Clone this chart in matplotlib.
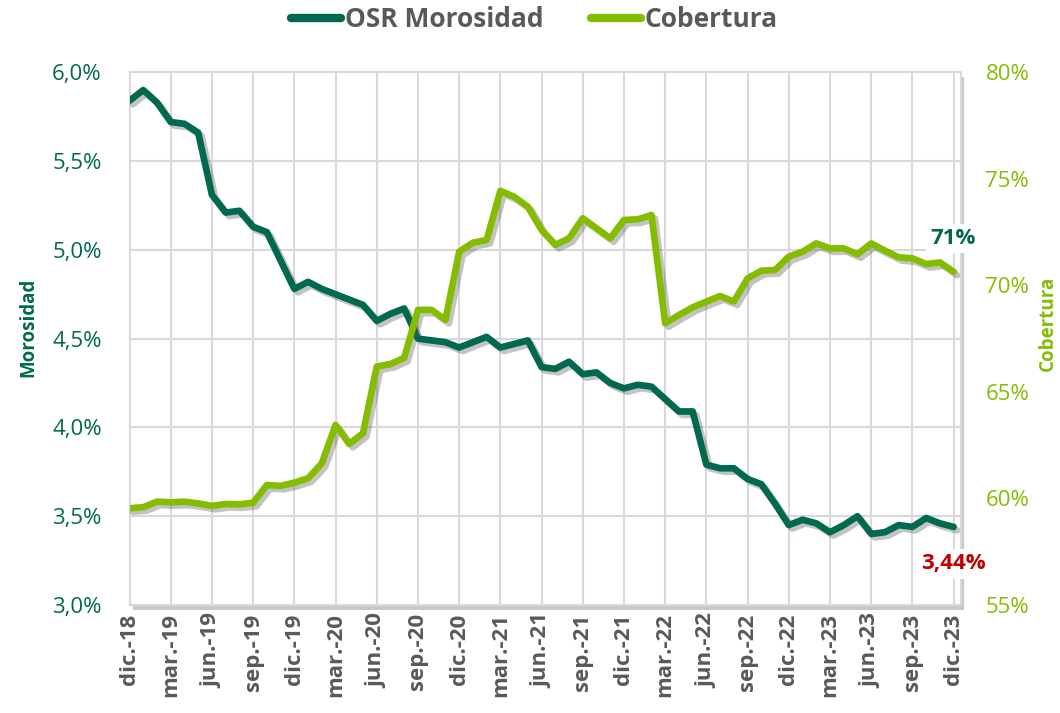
import matplotlib
matplotlib.use('Agg')
from matplotlib import pyplot as plt
from matplotlib import patheffects as pe
from matplotlib.patches import Rectangle
from matplotlib.lines import Line2D
import numpy as np

# monthly values, dic.-18 .. dic.-23
morosidad = [5.84, 5.90, 5.83, 5.72, 5.71, 5.66, 5.31, 5.21, 5.22, 5.13,
             5.10, 4.94, 4.78, 4.82, 4.78, 4.75, 4.72, 4.69, 4.60, 4.64,
             4.67, 4.50, 4.49, 4.48, 4.45, 4.48, 4.51, 4.45, 4.47, 4.49,
             4.34, 4.33, 4.37, 4.30, 4.31, 4.25, 4.22, 4.24, 4.23, 4.16,
             4.09, 4.09, 3.79, 3.77, 3.77, 3.71, 3.68, 3.57, 3.45, 3.48,
             3.46, 3.41, 3.45, 3.50, 3.40, 3.41, 3.45, 3.44, 3.49, 3.46, 3.44]
cobertura = [59.54, 59.59, 59.85, 59.82, 59.85, 59.77, 59.65, 59.74, 59.72, 59.80,
             60.63, 60.59, 60.74, 60.95, 61.65, 63.45, 62.56, 63.06, 66.19, 66.31,
             66.60, 68.85, 68.85, 68.38, 71.58, 72.00, 72.13, 74.44, 74.16, 73.69,
             72.60, 71.90, 72.21, 73.15, 72.68, 72.21, 73.07, 73.10, 73.30, 68.22,
             68.61, 68.97, 69.24, 69.50, 69.24, 70.33, 70.69, 70.72, 71.35, 71.58,
             71.97, 71.74, 71.74, 71.46, 71.97, 71.63, 71.32, 71.27, 71.00, 71.08, 70.64]
tick_labels = ['dic.-18', 'mar.-19', 'jun.-19', 'sep.-19', 'dic.-19', 'mar.-20',
               'jun.-20', 'sep.-20', 'dic.-20', 'mar.-21', 'jun.-21', 'sep.-21',
               'dic.-21', 'mar.-22', 'jun.-22', 'sep.-22', 'dic.-22', 'mar.-23',
               'jun.-23', 'sep.-23', 'dic.-23']
left_ticks = [3.0, 3.5, 4.0, 4.5, 5.0, 5.5, 6.0]
right_ticks = [55, 60, 65, 70, 75, 80]

DARK = '#00694E'
LIGHT = '#84BD00'
GREY = '#595959'
GRID = '#D9D9D9'

plt.rcParams['font.family'] = ['Open Sans', 'DejaVu Sans']

fig = plt.figure(figsize=(10.6, 7.13), dpi=100)
L, R, B, T = 129.5 / 1060, 960.5 / 1060, 1 - 605 / 713, 1 - 72.3 / 713
ax = fig.add_axes([L, B, R - L, T - B])

# plot area shadow
fig.add_artist(Rectangle((L + 3 / 1060, B - 5 / 713), R - L, T - B,
                         transform=fig.transFigure, facecolor='#C8C8C8',
                         edgecolor='none', zorder=-1))

x = np.arange(len(morosidad))
shadow = [pe.SimpleLineShadow(offset=(2.5, -2.5), shadow_color='#555555', alpha=0.35),
          pe.Normal()]

ax.plot(x, morosidad, color=DARK, lw=4.8, solid_joinstyle='round',
        solid_capstyle='round', path_effects=shadow, zorder=3)
ax.set_xlim(0, 60.5)
ax.set_ylim(3.0, 6.0)
ax.set_yticks(left_ticks)
ax.set_yticklabels([('%.1f%%' % v).replace('.', ',') for v in left_ticks],
                   color=DARK, fontsize=16)
ax.set_xticks(np.arange(0, 61, 3))
ax.set_xticklabels(tick_labels, rotation=90, fontsize=16, fontweight='bold', color=GREY)
ax.tick_params(length=0, pad=6)
ax.tick_params(axis='y', pad=20)
ax.grid(True, color=GRID, lw=1.5)
ax.set_axisbelow(True)
for s in ax.spines.values():
    s.set_color(GRID)
    s.set_linewidth(1.5)

ax2 = ax.twinx()
ax2.plot(x, cobertura, color=LIGHT, lw=4.8, solid_joinstyle='round',
         solid_capstyle='round', path_effects=shadow, zorder=3)
ax2.set_ylim(55, 80)
ax2.set_yticks(right_ticks)
ax2.set_yticklabels(['%d%%' % v for v in right_ticks], color=LIGHT, fontsize=16)
ax2.tick_params(length=0, pad=18)
for s in ax2.spines.values():
    s.set_visible(False)

# axis titles
fig.text(28 / 1060, 1 - 327 / 713, 'Morosidad', rotation=90, ha='center', va='center',
         color=DARK, fontsize=13.5, fontweight='bold')
fig.text(1048 / 1060, 1 - 323 / 713, 'Cobertura', rotation=90, ha='center', va='center',
         color=LIGHT, fontsize=13.5, fontweight='bold')

# end labels
ax2.annotate('71%', (x[-1], cobertura[-1]), xytext=(-1, 33), textcoords='offset pixels',
             ha='center', va='center', fontsize=16, fontweight='bold', color=DARK,
             bbox=dict(facecolor='white', edgecolor='none', pad=3), zorder=5)
ax.annotate('3,44%', (x[-1], morosidad[-1]), xytext=(0, -37), textcoords='offset pixels',
            ha='center', va='center', fontsize=16, fontweight='bold', color='#C00000',
            bbox=dict(facecolor='white', edgecolor='none', pad=3), zorder=5)

handles = [Line2D([], [], color=DARK, lw=6, solid_capstyle='round'),
           Line2D([], [], color=LIGHT, lw=6, solid_capstyle='round')]
fig.legend(handles, ['OSR Morosidad', 'Cobertura'], loc='center', ncol=2,
           bbox_to_anchor=(0.504, 0.972), frameon=False, handlelength=1.9,
           handletextpad=0.15, columnspacing=1.8,
           prop=dict(size=19, weight='bold'), labelcolor=GREY)

fig.savefig('out.png', dpi=100)
